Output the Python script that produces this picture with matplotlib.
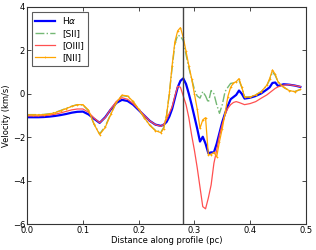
import numpy as np
import matplotlib
matplotlib.use('Agg')
import matplotlib.pyplot as plt

# positions along the profile (pc)
dist = [0.00, 0.01, 0.02, 0.03, 0.04, 0.05, 0.06, 0.07, 0.08, 0.09,
        0.10, 0.11, 0.12, 0.13, 0.14, 0.15, 0.16, 0.17, 0.18, 0.19,
        0.20, 0.21, 0.22, 0.23, 0.24, 0.245, 0.25, 0.255, 0.26, 0.265,
        0.27, 0.275, 0.28, 0.285, 0.29, 0.295, 0.30, 0.305, 0.31, 0.315,
        0.32, 0.325, 0.33, 0.335, 0.34, 0.345, 0.35, 0.355, 0.36, 0.365,
        0.37, 0.375, 0.38, 0.385, 0.39, 0.40, 0.41, 0.42, 0.43, 0.435,
        0.44, 0.445, 0.45, 0.46, 0.47, 0.48, 0.49]

halpha = [-1.08, -1.08, -1.08, -1.07, -1.05, -1.02, -0.98, -0.93, -0.87, -0.83,
          -0.82, -0.95, -1.15, -1.34, -1.08, -0.72, -0.42, -0.28, -0.33, -0.5,
          -0.75, -1.0, -1.25, -1.42, -1.48, -1.42, -1.3, -1.05, -0.7, -0.2,
          0.3, 0.6, 0.71, 0.45, 0.0, -0.5, -1.05, -1.6, -2.2, -1.98,
          -2.3, -2.74, -2.7, -2.7, -2.3, -1.8, -1.3, -0.9, -0.55, -0.25,
          -0.15, -0.05, 0.15, 0.0, -0.22, -0.18, -0.1, 0.02, 0.2, 0.3,
          0.5, 0.52, 0.36, 0.44, 0.42, 0.38, 0.32]

sii = [-0.96, -0.96, -0.96, -0.95, -0.92, -0.86, -0.77, -0.67, -0.57, -0.5,
       -0.52, -0.78, -1.4, -1.85, -1.5, -0.92, -0.4, -0.08, -0.12, -0.37,
       -0.72, -1.1, -1.45, -1.68, -1.76, -1.55, -1.0, 0.0, 1.2, 2.3,
       2.7, 2.65, 2.45, 1.8, 1.2, 0.7, 0.2, -0.1, -0.2, 0.1,
       -0.1, -0.4, 0.15, 0.0, -0.5, -0.9, -0.5, 0.1, 0.3, 0.48,
       0.5, 0.55, 0.62, 0.3, -0.15, -0.15, -0.05, 0.1, 0.38, 0.65,
       1.0, 0.85, 0.55, 0.3, 0.15, 0.1, 0.2]

oiii = [-1.02, -1.02, -1.02, -1.01, -0.98, -0.94, -0.88, -0.81, -0.74, -0.7,
        -0.7, -0.85, -1.12, -1.33, -1.1, -0.7, -0.35, -0.18, -0.25, -0.45,
        -0.72, -1.0, -1.25, -1.42, -1.5, -1.4, -1.2, -0.9, -0.6, -0.1,
        0.35, 0.3, -0.1, -0.5, -1.1, -1.9, -2.6, -3.4, -4.3, -5.2,
        -5.3, -4.8, -4.2, -3.2, -2.6, -1.9, -1.4, -0.95, -0.67, -0.5,
        -0.4, -0.36, -0.4, -0.45, -0.5, -0.45, -0.36, -0.2, -0.05, 0.05,
        0.15, 0.25, 0.32, 0.4, 0.42, 0.38, 0.33]

nii = [-0.97, -0.97, -0.97, -0.96, -0.93, -0.87, -0.78, -0.68, -0.58, -0.5,
       -0.5, -0.75, -1.4, -1.88, -1.55, -0.95, -0.4, -0.06, -0.1, -0.35,
       -0.7, -1.1, -1.45, -1.7, -1.79, -1.6, -1.0, 0.0, 1.3, 2.4,
       2.9, 3.05, 2.6, 1.95, 1.3, 0.7, 0.0, -0.7, -1.59, -1.2,
       -1.1, -2.8, -2.8, -2.7, -2.9, -2.2, -1.6, -0.9, -0.13, 0.3,
       0.5, 0.56, 0.7, 0.3, -0.15, -0.15, -0.05, 0.1, 0.4, 0.7,
       1.1, 0.9, 0.55, 0.3, 0.15, 0.1, 0.2]

cut = 0.28

fig = plt.figure(figsize=(3.16, 2.5), dpi=100)
ax = fig.add_axes([0.086, 0.104, 0.882, 0.868])

ax.plot(dist, halpha, color='b', lw=1.6, label=r'H$\alpha$')
ax.plot(dist, sii, color='#3a9a3a', lw=1.0, ls='-.', alpha=0.7, label='[SII]')
ax.plot(dist, oiii, color='#ff5050', lw=0.9, label='[OIII]')
ax.plot(dist, nii, color='orange', lw=0.9, marker='+', ms=2, mew=0.5, label='[NII]')
ax.axvline(cut, color='#444444', lw=1.0)

ax.set_xlim(0.0, 0.5)
ax.set_ylim(-6, 4)
ax.set_xticks(np.arange(0, 0.51, 0.1))
ax.set_yticks([-6, -4, -2, 0, 2, 4])
ax.tick_params(direction='in', top=True, right=True, labelsize=6, length=3, width=0.5, pad=1.5)
for s in ax.spines.values():
    s.set_linewidth(0.8)
    s.set_color('#333333')

ax.set_xlabel('Distance along profile (pc)', fontsize=6, labelpad=1)
ax.set_ylabel('Velocity (km/s)', fontsize=6, labelpad=1)

leg = ax.legend(loc='upper left', fontsize=6.5, fancybox=False, borderpad=0.4,
                labelspacing=0.35, handlelength=2.2, handletextpad=0.8,
                borderaxespad=0.5)
leg.get_frame().set_edgecolor('#333333')
leg.get_frame().set_linewidth(0.8)

fig.savefig('out.png', dpi=100)
